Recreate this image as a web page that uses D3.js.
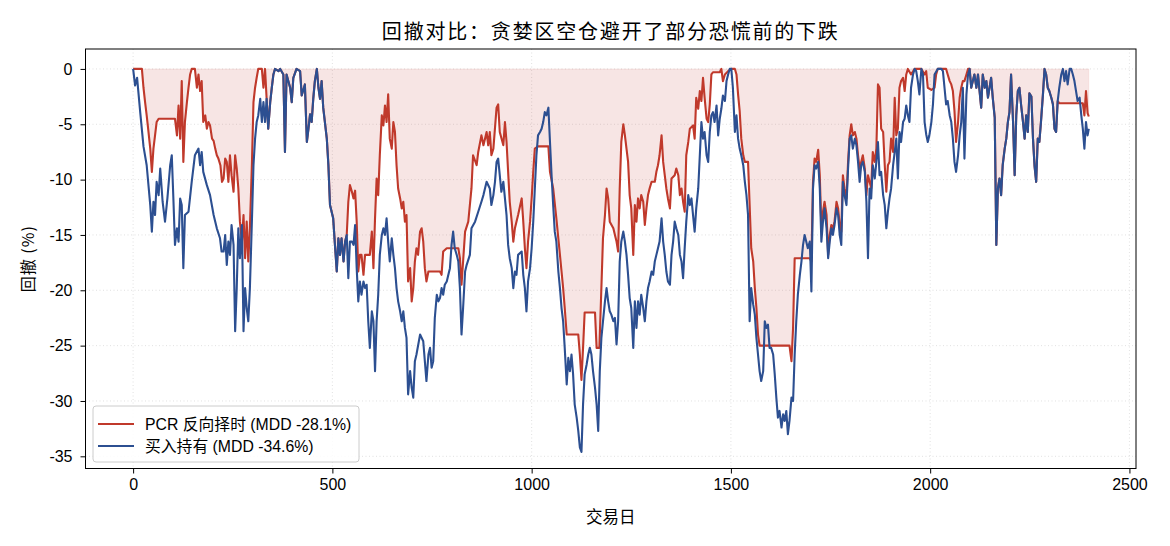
<!DOCTYPE html>
<html>
<head>
<meta charset="utf-8">
<script src="https://cdn.jsdelivr.net/npm/d3@7"></script>
<style>
  body { margin: 0; background: #fff; }
  svg { display: block; font-family: "Liberation Sans", Arial, "Noto Sans CJK SC", sans-serif; }
</style>
</head>
<body>
<svg width="1170" height="546"></svg>
<script>
/* Data: [trading day, drawdown %] */
const pcrDrawdown = [[0,0],[22,0],[26,-1.7],[30,-3.0],[34,-4.2],[38,-5.5],[43,-7.2],[47,-9.3],[51,-7.2],[55,-6.0],[59,-4.8],[64,-4.5],[105,-4.5],[110,-6.0],[114,-3.3],[118,-6.3],[122,-1.1],[126,-8.4],[130,-4.8],[135,-3.0],[139,-1.7],[143,-0.5],[147,0],[155,0],[160,-1.7],[164,-0.5],[168,-2.0],[172,-1.1],[176,-4.8],[181,-4.2],[185,-5.4],[189,-4.8],[193,-5.1],[198,-6.3],[202,-6.5],[206,-7.2],[210,-7.8],[214,-8.1],[219,-8.7],[223,-10.2],[227,-9.9],[231,-8.1],[235,-8.4],[239,-10.2],[243,-7.8],[247,-9.6],[252,-11.1],[256,-7.8],[260,-9.0],[264,-10.8],[268,-13.8],[273,-15.6],[277,-13.2],[281,-17.1],[285,-13.8],[289,-17.4],[293,-14.4],[298,-8.7],[302,-3.0],[306,-1.7],[310,-0.8],[314,0],[323,0],[327,-1.7],[331,0],
  [335,-2.7],[339,-5.4],[344,-3.0],[348,-1.7],[352,-0.5],[356,0],[365,-0.2],[369,0],[377,-0.5],[381,-7.5],[385,-0.5],[394,-1.7],[398,-3.0],[402,-0.8],[410,0],[419,-0.2],[423,-2.4],[431,-1.4],[436,-6.6],[440,-5.4],[444,-4.1],[448,-4.8],[452,-2.7],[456,-1.1],[461,0],[465,-1.7],[469,-2.7],[473,-1.1],[477,-3.5],[486,-6.3],[490,-8.7],[494,-12.3],[502,-13.5],[507,-16.2],[511,-18.3],[515,-15.3],[519,-16.8],[523,-15.3],[528,-17.4],[532,-15.6],[536,-15.0],[540,-12.0],[544,-10.5],[549,-11.1],[553,-11.7],[557,-11.0],[561,-13.8],[565,-18.3],[569,-16.8],[573,-16.8],[578,-18.6],[582,-16.8],[594,-16.8],[599,-14.7],[603,-18.0],[607,-13.5],[611,-9.9],[615,-11.4],[619,-7.8],[624,-4.2],[628,-5.1],[632,-3.3],[636,-4.8],[640,-2.3],[644,-6.3],[649,-7.2],[653,-4.8],[657,-5.7],[661,-8.7],[665,-10.8],[670,-11.7],[674,-12.6],[678,-12.0],[682,-13.8],[686,-13.2],[690,-19.2],[695,-18.0],[699,-21.0],[703,-19.8],[707,-17.4],[711,-16.2],[715,-16.8],[720,-14.7],[724,-14.4],[728,-15.6],[732,-18.0],[736,-19.2],[741,-18.3],[770,-18.3],[774,-18.6],[778,-16.5],[787,-16.2],[816,-16.2],[820,-17.1],[824,-19.5],[828,-17.4],[833,-14.7],[841,-13.8],[849,-10.8],[853,-7.8],[862,-8.7],[866,-7.5],[874,-6.0],[879,-6.9],[883,-6.3],[887,-5.7],[891,-6.9],[895,-5.7],[899,-7.8],[904,-7.2],[912,-3.5],[916,-3.2],[920,-5.7],[929,-6.9],[933,-4.8],[937,-6.6],[941,-9.3],[945,-12.0],[950,-13.8],[954,-15.6],[958,-14.4],[966,-13.2],[975,-11.7],[979,-13.8],[983,-16.2],[987,-18.0],[991,-15.6],[996,-13.8],[1000,-11.7],[1004,-9.3],[1008,-7.2],[1016,-7.0],[1042,-7.0],[1046,-9.3],[1054,-10.8],[1062,-13.5],[1071,-16.8],[1075,-18.3],[1079,-19.8],[1083,-21.6],[1088,-24.0],[1117,-24.0],[1121,-25.8],[1125,-28.1],[1129,-25.2],[1133,-22.0],[1159,-22.0],[1163,-25.2],[1170,-25.2],[1175,-19.8],[1179,-15.3],[1184,-13.2],[1188,-10.8],[1192,-11.7],[1196,-13.8],[1205,-14.4],[1209,-15.0],[1213,-15.6],[1217,-16.5],[1221,-10.8],[1225,-6.6],[1230,-5.0],[1234,-6.0],[1238,-7.2],[1242,-8.4],[1246,-11.4],[1250,-12.6],[1255,-16.8],[1259,-12.3],[1263,-13.8],[1267,-11.7],[1271,-12.6],[1275,-11.4],[1280,-12.0],[1284,-14.1],[1288,-12.6],[1292,-11.4],[1296,-10.8],[1301,-10.2],[1309,-10.2],[1313,-9.3],[1317,-8.7],[1321,-7.8],[1326,-6.0],[1330,-8.4],[1334,-9.6],[1338,-10.8],[1342,-11.7],[1347,-12.6],[1351,-9.9],[1359,-9.6],[1363,-9.0],[1368,-9.6],[1372,-11.4],[1376,-10.8],[1380,-12.0],[1384,-12.9],[1388,-7.8],[1393,-6.6],[1397,-5.4],[1405,-5.1],[1409,-6.3],[1413,-2.6],[1418,-3.6],[1422,-2.0],[1426,-2.9],[1430,-0.8],[1434,-2.6],[1439,-4.5],[1443,-4.8],[1447,-3.2],[1451,-0.5],[1455,-0.3],[1472,-0.3],[1476,0],[1480,-1.1],[1485,-0.5],[1493,-0.2],[1501,0],[1510,0],[1514,-0.5],[1518,-2.3],[1522,-3.8],[1526,-6.3],[1531,-7.8],[1535,-8.4],[1543,-8.4],[1547,-12.3],[1551,-16.2],[1556,-17.4],[1560,-19.8],[1564,-21.6],[1568,-24.0],[1572,-25.0],[1647,-25.0],[1652,-26.4],[1656,-23.4],[1660,-17.1],[1698,-17.1],[1702,-17.4],[1706,-10.2],[1710,-8.1],[1714,-8.4],[1719,-7.3],[1723,-9.6],[1727,-14.4],[1731,-12.9],[1735,-12.0],[1740,-13.2],[1744,-16.8],[1748,-15.0],[1752,-14.1],[1756,-14.4],[1760,-13.8],[1765,-12.0],[1769,-12.6],[1773,-14.1],[1777,-14.7],[1781,-9.6],[1785,-10.8],[1790,-11.7],[1794,-8.4],[1798,-6.0],[1802,-5.0],[1806,-6.0],[1811,-5.7],[1815,-6.3],[1819,-7.8],[1823,-9.0],[1827,-8.4],[1831,-7.8],[1836,-9.0],[1840,-11.4],[1844,-9.6],[1848,-10.2],[1852,-10.8],[1856,-7.5],[1861,-8.4],[1865,-7.2],[1869,-1.4],[1873,-1.7],[1877,-5.4],[1882,-5.7],[1886,-8.7],[1890,-11.1],[1894,-8.7],[1898,-8.4],[1902,-6.3],[1907,-7.5],[1911,-2.6],[1915,-6.0],[1919,-5.4],[1923,-1.7],[1927,-1.1],[1932,-0.8],[1936,-2.0],[1940,-0.5],[1944,0],[1952,-0.5],[1961,0],[1978,0],[1986,-0.5],[1990,-0.2],[1994,-1.7],[2003,-1.9],[2011,-1.7],[2015,-0.5],[2019,0],[2040,0],[2044,-0.5],[2049,-1.1],[2053,-1.4],[2057,-2.0],[2061,-3.8],[2065,-6.6],[2070,-4.8],[2074,-2.6],[2078,-1.7],[2082,-1.1],[2086,-1.1],[2091,-0.5],[2095,0],
  [2099,0],[2103,-1.7],[2111,-0.5],[2116,-1.7],[2120,-0.5],[2124,-2.0],[2128,-3.5],[2132,-0.5],[2137,-1.7],[2141,-1.1],[2145,-2.6],[2149,-1.7],[2153,-0.8],[2157,-2.6],[2162,-4.4],[2166,-15.9],[2170,-10.8],[2174,-9.9],[2178,-11.4],[2182,-8.7],[2187,-7.2],[2191,-6.3],[2195,-4.8],[2199,-3.9],[2203,-0.5],[2208,-4.8],[2212,-9.6],[2216,-4.2],[2220,-2.0],[2224,-1.7],[2228,-3.2],[2233,-4.8],[2237,-6.3],[2241,-4.2],[2245,-5.7],[2249,-2.2],[2254,-2.5],[2258,-6.3],[2262,-8.8],[2266,-10.2],[2270,-6.3],[2274,-6.6],[2278,-4.8],[2283,-2.3],[2287,0],[2291,-0.5],[2295,-1.7],[2299,-2.0],[2304,-2.6],[2308,-3.2],[2312,-5.4],[2316,-5.7],[2320,-2.9],[2324,-3.1],[2383,-3.1],[2387,-4.2],[2391,-2.0],[2395,-4.0],[2398,-4.3]];

const holdDrawdown = [[0,0],[5,-1.5],[10,-0.8],[13,-2.0],[18,-4.0],[26,-7.0],[34,-8.7],[43,-12.3],[47,-14.7],[51,-12.0],[55,-13.2],[59,-10.2],[64,-11.4],[68,-9.0],[74,-12.0],[80,-13.8],[86,-11.7],[93,-8.7],[97,-7.8],[101,-11.7],[105,-15.9],[110,-14.4],[114,-15.6],[118,-11.7],[122,-12.3],[126,-18.0],[130,-13.2],[139,-12.9],[147,-10.2],[155,-7.8],[164,-7.2],[168,-8.7],[172,-7.5],[176,-9.3],[185,-10.5],[193,-11.4],[202,-13.2],[210,-14.4],[218,-15.3],[222,-16.5],[227,-16.5],[231,-15.0],[235,-17.7],[239,-15.6],[243,-16.8],[247,-14.1],[252,-15.9],[256,-23.7],[260,-19.8],[264,-14.4],[268,-17.1],[273,-14.1],[277,-23.7],[281,-19.8],[285,-21.6],[289,-22.8],[293,-19.8],[298,-13.8],[302,-8.7],[306,-6.3],[310,-4.8],[314,-4.2],[319,-2.7],[323,-4.8],[327,-3.0],[331,-4.8],[335,-2.7],[339,-5.4],[344,-3.0],[348,-1.7],[352,-0.5],[356,0],[365,-0.2],[369,0],[377,-0.5],[381,-7.5],[385,-0.5],[394,-1.7],[398,-3.0],[402,-0.8],[410,0],[419,-0.2],[423,-2.4],[431,-1.4],[436,-6.6],[440,-5.4],[444,-4.1],[448,-4.8],[452,-2.7],[456,-1.1],[461,0],[465,-1.7],[469,-2.7],[473,-1.1],[477,-3.5],[486,-6.3],[490,-8.7],[494,-12.3],[502,-13.5],[507,-16.2],[511,-18.3],[515,-15.3],[519,-16.8],[523,-15.3],[528,-17.4],[532,-15.6],[536,-15.0],[540,-18.9],[544,-15.6],[549,-15.6],[553,-15.9],[557,-14.1],[561,-18.0],[565,-21.0],[569,-19.2],[573,-20.4],[578,-19.2],[582,-19.8],[586,-19.5],[590,-22.8],[594,-25.2],[599,-21.9],[603,-22.8],[607,-27.3],[611,-22.8],[615,-20.4],[619,-16.8],[624,-15.0],[628,-14.4],[632,-15.0],[636,-13.5],[640,-15.6],[644,-17.4],[649,-15.3],[653,-16.8],[657,-18.0],[661,-19.8],[665,-21.0],[670,-21.9],[674,-22.8],[678,-21.9],[682,-23.4],[686,-24.3],[690,-29.4],[695,-27.3],[699,-28.8],[703,-29.7],[707,-26.4],[711,-25.8],[720,-24.0],[728,-24.6],[732,-26.4],[736,-28.2],[741,-25.8],[745,-25.2],[749,-27.0],[753,-26.4],[757,-22.5],[762,-20.4],[766,-21.0],[770,-20.7],[774,-19.8],[778,-20.4],[782,-19.5],[787,-19.2],[791,-18.6],[795,-18.0],[799,-15.9],[803,-14.7],[807,-16.2],[812,-16.8],[816,-17.4],[820,-19.8],[824,-24.0],[828,-21.6],[833,-18.3],[837,-17.7],[845,-16.8],[849,-14.4],[858,-13.8],[866,-12.9],[874,-12.0],[879,-11.4],[887,-10.2],[895,-10.8],[899,-12.3],[904,-11.4],[908,-10.2],[912,-8.4],[916,-8.1],[920,-9.6],[924,-11.1],[929,-10.2],[933,-11.7],[937,-13.2],[941,-15.9],[945,-17.1],[950,-18.0],[954,-19.8],[958,-18.3],[962,-18.6],[966,-16.8],[975,-16.5],[979,-18.6],[983,-19.8],[987,-21.9],[991,-19.2],[996,-18.0],[1000,-16.2],[1004,-13.8],[1008,-10.8],[1012,-7.8],[1016,-6.0],[1021,-5.7],[1025,-5.4],[1029,-4.8],[1033,-3.9],[1037,-4.2],[1042,-3.5],[1046,-6.6],[1050,-9.6],[1054,-12.3],[1058,-14.7],[1062,-15.6],[1067,-18.3],[1071,-19.8],[1075,-21.6],[1079,-22.8],[1083,-25.2],[1088,-28.5],[1092,-26.1],[1096,-27.3],[1100,-25.8],[1104,-27.6],[1108,-30.3],[1113,-31.5],[1117,-32.7],[1121,-34.2],[1125,-34.6],[1129,-30.3],[1133,-27.6],[1138,-26.7],[1142,-25.8],[1146,-25.2],[1150,-25.8],[1154,-27.3],[1159,-28.8],[1163,-30.3],[1167,-32.7],[1171,-27.3],[1175,-24.3],[1179,-22.8],[1184,-21.0],[1188,-19.8],[1192,-21.0],[1196,-21.9],[1200,-22.2],[1205,-22.8],[1209,-22.5],[1213,-24.9],[1217,-22.8],[1221,-17.4],[1225,-15.6],[1230,-14.7],[1234,-15.6],[1238,-16.8],[1242,-18.6],[1246,-20.7],[1250,-21.6],[1255,-25.2],[1259,-21.0],[1263,-23.4],[1267,-21.0],[1271,-22.2],[1275,-20.4],[1280,-21.6],[1284,-22.8],[1288,-21.0],[1292,-19.8],[1296,-19.2],[1301,-18.3],[1305,-18.6],[1309,-17.4],[1313,-16.8],[1317,-16.2],[1321,-15.6],[1326,-13.5],[1330,-15.6],[1334,-16.8],[1338,-18.3],[1342,-19.2],[1347,-19.5],[1351,-16.8],[1355,-15.6],[1359,-13.8],[1363,-14.4],[1368,-15.0],[1372,-16.8],[1376,-17.4],[1380,-18.9],[1384,-16.2],[1388,-13.8],[1393,-11.4],[1397,-12.3],[1401,-11.7],[1405,-13.2],[1409,-14.7],[1413,-12.6],[1418,-10.8],[1422,-7.8],[1426,-4.8],[1430,-6.3],[1434,-5.7],[1439,-7.8],[1443,-8.4],[1447,-5.7],[1451,-4.2],[1455,-3.9],[1459,-4.8],[1464,-3.3],[1468,-6.0],[1472,-4.5],[1476,-3.6],[1480,-2.4],[1485,-2.9],[1489,-1.1],[1493,-0.5],[1497,0],[1501,0],[1505,-1.7],[1510,-5.7],[1514,-4.2],[1518,-6.3],[1522,-7.2],[1526,-7.8],[1531,-8.7],[1535,-10.2],[1539,-11.4],[1543,-13.2],[1547,-22.8],[1551,-19.8],[1556,-21.3],[1560,-22.2],[1564,-24.3],[1568,-25.8],[1572,-27.3],[1576,-28.2],[1581,-27.3],[1585,-22.8],[1589,-23.4],[1593,-23.1],[1597,-25.2],[1601,-25.2],[1606,-25.8],[1610,-27.6],[1614,-29.7],[1618,-31.5],[1622,-30.9],[1627,-32.4],[1631,-31.2],[1635,-31.8],[1639,-30.9],[1643,-33.0],[1647,-31.8],[1652,-29.7],[1656,-30.0],[1660,-25.8],[1664,-22.8],[1668,-20.4],[1673,-18.6],[1677,-17.4],[1681,-15.9],[1685,-15.0],[1689,-15.6],[1693,-16.2],[1698,-15.6],[1702,-20.1],[1706,-10.8],[1710,-8.7],[1714,-9.0],[1719,-8.4],[1723,-10.8],[1727,-15.6],[1731,-13.8],[1735,-12.6],[1740,-14.4],[1744,-17.1],[1748,-15.6],[1752,-14.4],[1756,-15.0],[1760,-14.1],[1765,-12.6],[1769,-13.2],[1773,-15.0],[1777,-15.9],[1781,-10.2],[1785,-11.4],[1790,-12.3],[1794,-9.0],[1798,-6.3],[1802,-6.0],[1806,-7.2],[1811,-6.3],[1815,-6.9],[1819,-8.4],[1823,-10.2],[1827,-8.7],[1831,-8.4],[1836,-9.3],[1840,-12.0],[1844,-17.1],[1848,-10.8],[1852,-11.7],[1856,-8.7],[1861,-9.9],[1865,-8.4],[1869,-6.6],[1873,-9.6],[1877,-9.3],[1882,-11.4],[1886,-12.3],[1890,-14.4],[1894,-12.9],[1898,-11.7],[1902,-10.8],[1907,-8.7],[1911,-7.5],[1915,-6.3],[1919,-9.9],[1923,-5.7],[1927,-6.6],[1932,-4.8],[1936,-4.5],[1940,-3.3],[1944,-4.2],[1948,-4.8],[1952,-1.7],[1957,-0.5],[1961,0],[1965,-0.2],[1969,-1.1],[1973,-2.3],[1978,0],[1982,-0.5],[1986,-4.8],[1990,-5.9],[1994,-6.6],[1998,-6.0],[2003,-4.8],[2007,-3.2],[2011,-0.5],[2019,0],[2028,0],[2032,-0.2],[2036,-1.7],[2040,-3.2],[2044,-2.9],[2049,-4.2],[2053,-4.8],[2057,-6.3],[2061,-8.4],[2065,-9.3],[2070,-7.8],[2074,-6.0],[2078,-4.8],[2082,-1.7],[2086,-8.1],[2091,-2.3],[2095,-0.5],[2099,0],[2103,-1.7],[2111,-0.5],[2116,-1.7],[2120,-0.5],[2124,-2.0],[2128,-3.5],[2132,-0.5],[2137,-1.7],[2141,-1.1],[2145,-2.6],[2149,-1.7],[2153,-0.8],[2157,-2.6],[2162,-4.4],[2166,-15.9],[2170,-10.8],[2174,-9.9],[2178,-11.4],[2182,-8.7],[2187,-7.2],[2191,-6.3],[2195,-4.8],[2199,-3.9],[2203,-0.5],[2208,-4.8],[2212,-9.6],[2216,-4.2],[2220,-2.0],[2224,-1.7],[2228,-3.2],[2233,-4.8],[2237,-6.3],[2241,-4.2],[2245,-5.7],[2249,-2.2],[2254,-2.5],[2258,-6.3],[2262,-8.8],[2266,-10.2],[2270,-6.3],[2274,-6.6],[2278,-4.8],[2283,-2.3],[2287,0],[2291,-0.5],[2295,-1.7],[2299,-2.0],[2304,-2.6],[2308,-3.2],[2312,-5.4],[2316,-5.7],[2320,-2.9],[2324,-1.7],[2329,-0.5],[2333,0],[2337,-1.1],[2341,-0.2],[2345,-1.4],[2350,0],[2354,0],[2358,-0.5],[2362,-1.1],[2366,-2.0],[2370,-2.9],[2375,-2.6],[2379,-4.1],[2383,-5.4],[2387,-7.2],[2391,-4.8],[2395,-6.0],[2398,-5.4]];

const xTicks = [0, 500, 1000, 1500, 2000, 2500];
const yTicks = [0, -5, -10, -15, -20, -25, -30, -35];
const seriesNames = ['PCR 反向择时 (MDD -28.1%)', '买入持有 (MDD -34.6%)'];
const seriesColors = ['#c0392b', '#2c4f91'];

/* Layout */
const M = { left: 85.5, right: 1136, top: 49, bottom: 468.5 };

const svg = d3.select('svg');

/* Scales */
const x = d3.scaleLinear().domain([-119.5, 2516.5]).range([M.left, M.right]);
const y = d3.scaleLinear().domain([-36.1, 1.8]).range([M.bottom, M.top]);

/* Clip */
svg.append('clipPath').attr('id', 'plot-clip')
  .append('rect')
  .attr('x', M.left).attr('y', M.top)
  .attr('width', M.right - M.left).attr('height', M.bottom - M.top);

/* Grid */
const grid = svg.append('g').attr('class', 'grid');
grid.selectAll('line.gx').data(xTicks).enter().append('line')
  .attr('x1', d => x(d)).attr('x2', d => x(d))
  .attr('y1', M.top).attr('y2', M.bottom)
  .attr('stroke', '#d9d9d9').attr('stroke-width', 0.8).attr('stroke-dasharray', '1,2.5');
grid.selectAll('line.gy').data(yTicks).enter().append('line')
  .attr('x1', M.left).attr('x2', M.right)
  .attr('y1', d => y(d)).attr('y2', d => y(d))
  .attr('stroke', '#d9d9d9').attr('stroke-width', 0.8).attr('stroke-dasharray', '1,2.5');

/* Marks */
const plot = svg.append('g').attr('clip-path', 'url(#plot-clip)');

const area = d3.area()
  .x(d => x(d[0]))
  .y0(y(0))
  .y1(d => y(d[1]));

const line = d3.line()
  .x(d => x(d[0]))
  .y(d => y(d[1]));

plot.append('path')
  .datum(pcrDrawdown)
  .attr('d', area)
  .attr('fill', seriesColors[0])
  .attr('fill-opacity', 0.13)
  .attr('stroke', seriesColors[0])
  .attr('stroke-opacity', 0.08);

plot.append('path')
  .datum(pcrDrawdown)
  .attr('d', line)
  .attr('fill', 'none')
  .attr('stroke', seriesColors[0])
  .attr('stroke-width', 2.1)
  .attr('stroke-linejoin', 'round');

plot.append('path')
  .datum(holdDrawdown)
  .attr('d', line)
  .attr('fill', 'none')
  .attr('stroke', seriesColors[1])
  .attr('stroke-width', 2.1)
  .attr('stroke-linejoin', 'round');

/* Axes */
const xAxis = svg.append('g')
  .attr('transform', `translate(0,${M.bottom})`)
  .call(d3.axisBottom(x).tickValues(xTicks).tickSize(5).tickPadding(5).tickFormat(d3.format('d')));
const yAxis = svg.append('g')
  .attr('transform', `translate(${M.left},0)`)
  .call(d3.axisLeft(y).tickValues(yTicks).tickSize(5).tickPadding(8).tickFormat(d => d));

[xAxis, yAxis].forEach(a => {
  a.select('.domain').remove();
  a.selectAll('.tick line').attr('stroke', '#000').attr('stroke-width', 1);
  a.selectAll('.tick text')
    .attr('fill', '#000')
    .style('font-size', '16px')
    .style('font-family', '"Liberation Sans", Arial, sans-serif');
});

/* Frame */
svg.append('rect')
  .attr('x', M.left).attr('y', M.top)
  .attr('width', M.right - M.left).attr('height', M.bottom - M.top)
  .attr('fill', 'none').attr('stroke', '#000').attr('stroke-width', 1);

/* Titles */
svg.append('text')
  .attr('x', (M.left + M.right) / 2).attr('y', 39)
  .attr('text-anchor', 'middle')
  .style('font-size', '20px')
  .style('letter-spacing', '1.8px')
  .style('font-family', '"Noto Sans CJK SC", sans-serif')
  .text('回撤对比：贪婪区空仓避开了部分恐慌前的下跌');

svg.append('text')
  .attr('x', (M.left + M.right) / 2).attr('y', 523)
  .attr('text-anchor', 'middle')
  .style('font-size', '16.5px')
  .style('font-family', '"Noto Sans CJK SC", sans-serif')
  .text('交易日');

svg.append('text')
  .attr('transform', `translate(34,${(M.top + M.bottom) / 2}) rotate(-90)`)
  .attr('text-anchor', 'middle')
  .style('font-size', '16px')
  .style('letter-spacing', '1px')
  .style('font-family', '"Noto Sans CJK SC", sans-serif')
  .text('回撤 (%)');

/* Legend */
const legend = svg.append('g').attr('transform', 'translate(93,406)');
legend.append('rect')
  .attr('width', 266).attr('height', 56).attr('rx', 3)
  .attr('fill', '#fff').attr('fill-opacity', 0.85)
  .attr('stroke', '#cccccc').attr('stroke-width', 1);

const items = legend.selectAll('g.item').data(seriesNames).enter().append('g')
  .attr('transform', (d, i) => `translate(0,${18 + i * 22})`);
items.append('line')
  .attr('x1', 5).attr('x2', 41)
  .attr('stroke', (d, i) => seriesColors[i]).attr('stroke-width', 2);
items.append('text')
  .attr('x', 52).attr('y', 5.5)
  .style('font-size', '15.8px')
  .style('font-family', '"Liberation Sans", Arial, "Noto Sans CJK SC", sans-serif')
  .text(d => d);
</script>
</body>
</html>
